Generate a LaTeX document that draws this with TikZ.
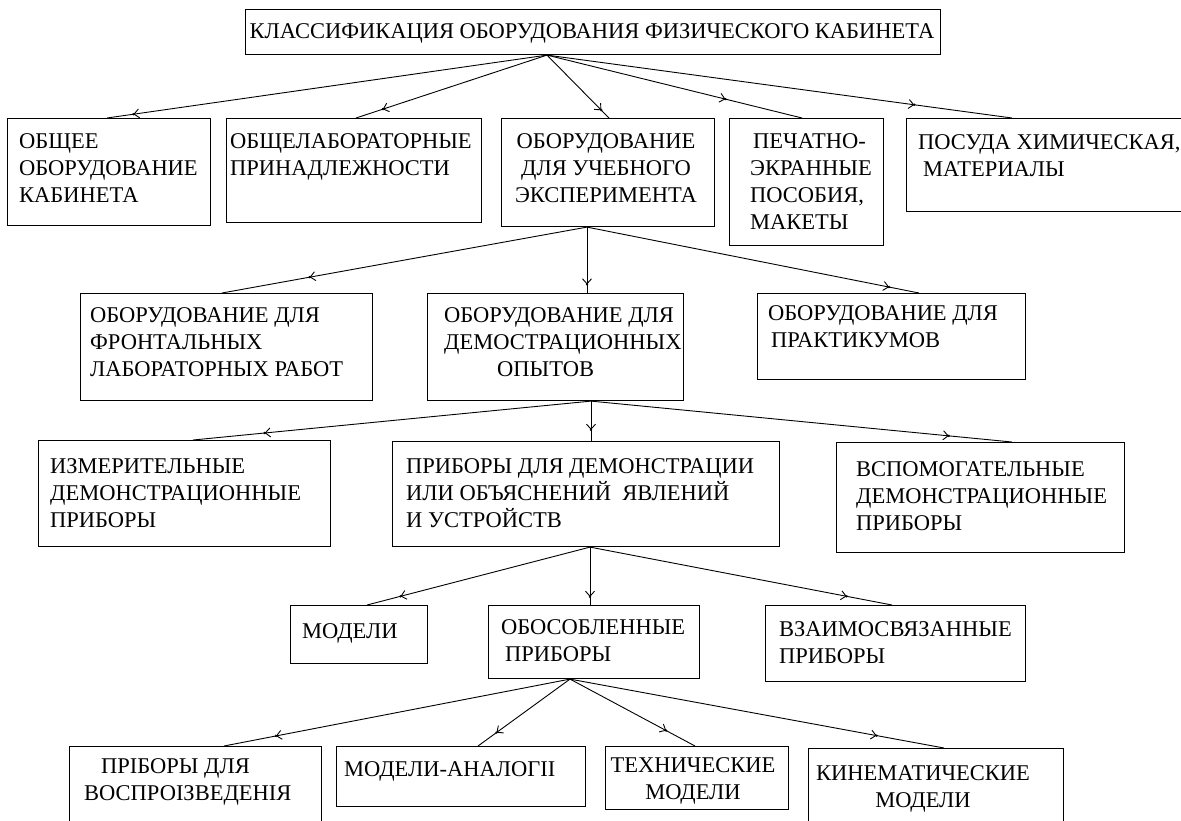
\documentclass[tikz,border=0pt]{standalone}
\usepackage{fontspec}
\setmainfont{Liberation Serif}
\usetikzlibrary{arrows.meta,decorations.markings}
\tikzset{
  box/.style={draw, line width=1.1pt, inner sep=0pt, anchor=north west},
  txt/.style={inner sep=0pt, font=\fontsize{22.5}{27}\selectfont, align=left, anchor=base west},
  ctxt/.style={inner sep=0pt, font=\fontsize{22.5}{27}\selectfont, align=center, anchor=base},
  link/.style={line width=0.9pt},
  tip/.style={postaction={decorate}, decoration={markings, mark=at position #1 with {\fill (0,0) circle (1.3pt); \arrow{Straight Barb[length=5pt,width=9pt,line width=0.9pt]}}}},
}
\begin{document}
\begin{tikzpicture}[x=1pt,y=-1pt]
\useasboundingbox (0,0) rectangle (1181,820);
\clip (0,0) rectangle (1181,820);
% boxes
\node[box, minimum width=695pt, minimum height=45pt] (title) at (245,9) {};
\node[box, minimum width=203pt, minimum height=107pt] (b1) at (7,118) {};
\node[box, minimum width=255pt, minimum height=104pt] (b2) at (226,118) {};
\node[box, minimum width=213pt, minimum height=108pt] (b3) at (501,118) {};
\node[box, minimum width=154pt, minimum height=127pt] (b4) at (729,118) {};
\node[box, minimum width=290pt, minimum height=93pt] (b5) at (906,118) {};
\node[box, minimum width=292pt, minimum height=107pt] (f1) at (80,293) {};
\node[box, minimum width=256pt, minimum height=107pt] (d1) at (427,293) {};
\node[box, minimum width=268pt, minimum height=86pt] (p1) at (757,293) {};
\node[box, minimum width=292pt, minimum height=106pt] (m1) at (38,440) {};
\node[box, minimum width=387pt, minimum height=105pt] (pr) at (392,441) {};
\node[box, minimum width=288pt, minimum height=110pt] (v1) at (836,442) {};
\node[box, minimum width=137pt, minimum height=58pt] (mo) at (290,605) {};
\node[box, minimum width=211pt, minimum height=73pt] (ob) at (488,605) {};
\node[box, minimum width=260pt, minimum height=76pt] (vz) at (765,605) {};
\node[box, minimum width=252pt, minimum height=90pt] (r1) at (69,746) {};
\node[box, minimum width=249pt, minimum height=60pt] (r2) at (336,746) {};
\node[box, minimum width=183pt, minimum height=63pt] (r3) at (605,746) {};
\node[box, minimum width=255pt, minimum height=90pt] (r4) at (808,748) {};
% texts (anchor = baseline of the last line)
\node[ctxt] (t0) at (592,38) {КЛАССИФИКАЦИЯ ОБОРУДОВАНИЯ ФИЗИЧЕСКОГО КАБИНЕТА};
\node[txt] (t1) at (19,202) {ОБЩЕЕ\\ОБОРУДОВАНИЕ\\КАБИНЕТА};
\node[txt] (t2) at (230,175) {ОБЩЕЛАБОРАТОРНЫЕ\\ПРИНАДЛЕЖНОСТИ};
\node[ctxt] (t3) at (606,202) {ОБОРУДОВАНИЕ\\ДЛЯ УЧЕБНОГО\\ЭКСПЕРИМЕНТА};
\node[txt] (t4) at (750,229) {\hspace*{3pt}ПЕЧАТНО-\\ЭКРАННЫЕ\\ПОСОБИЯ,\\МАКЕТЫ};
\node[txt] (t5) at (918,176) {ПОСУДА ХИМИЧЕСКАЯ,\\\hspace*{5pt}МАТЕРИАЛЫ};
\node[txt] (t6) at (90,376) {ОБОРУДОВАНИЕ ДЛЯ\\ФРОНТАЛЬНЫХ\\ЛАБОРАТОРНЫХ РАБОТ};
\node[txt] (t7) at (444,376) {ОБОРУДОВАНИЕ ДЛЯ\\ДЕМОСТРАЦИОННЫХ\\\hspace*{53pt}ОПЫТОВ};
\node[txt] (t8) at (768,347) {ОБОРУДОВАНИЕ ДЛЯ\\\hspace*{3pt}ПРАКТИКУМОВ};
\node[txt] (t9) at (50,527) {ИЗМЕРИТЕЛЬНЫЕ\\ДЕМОНСТРАЦИОННЫЕ\\ПРИБОРЫ};
\node[txt] (t10) at (406,527) {ПРИБОРЫ ДЛЯ ДЕМОНСТРАЦИИ\\ИЛИ ОБЪЯСНЕНИЙ\ \ ЯВЛЕНИЙ\\И УСТРОЙСТВ};
\node[txt] (t11) at (856,530) {ВСПОМОГАТЕЛЬНЫЕ\\ДЕМОНСТРАЦИОННЫЕ\\ПРИБОРЫ};
\node[txt] (t12) at (302,638) {МОДЕЛИ};
\node[txt] (t13) at (501,661) {ОБОСОБЛЕННЫЕ\\\hspace*{4pt}ПРИБОРЫ};
\node[txt] (t14) at (779,663) {ВЗАИМОСВЯЗАННЫЕ\\ПРИБОРЫ};
\node[txt] (t15) at (84,800) {\hspace*{17pt}ПРІБОРЫ ДЛЯ\\ВОСПРОІЗВЕДЕНІЯ};
\node[txt] (t16) at (344,776) {МОДЕЛИ-АНАЛОГІІ};
\node[ctxt] (t17) at (693,799) {ТЕХНИЧЕСКИЕ\\МОДЕЛИ};
\node[ctxt] (t18) at (923,807) {КИНЕМАТИЧЕСКИЕ\\МОДЕЛИ};
% connectors
\draw[link, tip=0.94] ([xshift=302pt]title.south west) -- ([xshift=100pt]b1.north west);
\draw[link, tip=0.86] ([xshift=302pt]title.south west) -- ([xshift=130pt]b2.north west);
\draw[link, tip=0.88] ([xshift=302pt]title.south west) -- ([xshift=108pt]b3.north west);
\draw[link, tip=0.70] ([xshift=302pt]title.south west) -- ([xshift=73pt]b4.north west);
\draw[link, tip=0.79] ([xshift=302pt]title.south west) -- ([xshift=106pt]b5.north west);
\draw[link, tip=0.76] ([xshift=86pt]b3.south west) -- ([xshift=142pt]f1.north west);
\draw[link, tip=0.87] ([xshift=86pt]b3.south west) -- ([xshift=160pt]d1.north west);
\draw[link, tip=0.91] ([xshift=86pt]b3.south west) -- ([xshift=162pt]p1.north west);
\draw[link, tip=0.82] ([xshift=164pt]d1.south west) -- ([xshift=155pt]m1.north west);
\draw[link, tip=0.72] ([xshift=164pt]d1.south west) -- ([xshift=199pt]pr.north west);
\draw[link, tip=0.85] ([xshift=164pt]d1.south west) -- ([xshift=176pt]v1.north west);
\draw[link, tip=0.85] ([xshift=198pt]pr.south west) -- ([xshift=77pt]mo.north west);
\draw[link, tip=0.86] ([xshift=198pt]pr.south west) -- ([xshift=102pt]ob.north west);
\draw[link, tip=0.85] ([xshift=198pt]pr.south west) -- ([xshift=127pt]vz.north west);
\draw[link, tip=0.85] ([xshift=82pt]ob.south west) -- ([xshift=155pt]r1.north west);
\draw[link, tip=0.80] ([xshift=82pt]ob.south west) -- ([xshift=142pt]r2.north west);
\draw[link, tip=0.77] ([xshift=82pt]ob.south west) -- ([xshift=90pt]r3.north west);
\draw[link, tip=0.82] ([xshift=82pt]ob.south west) -- ([xshift=136pt]r4.north west);
\end{tikzpicture}
\end{document}
